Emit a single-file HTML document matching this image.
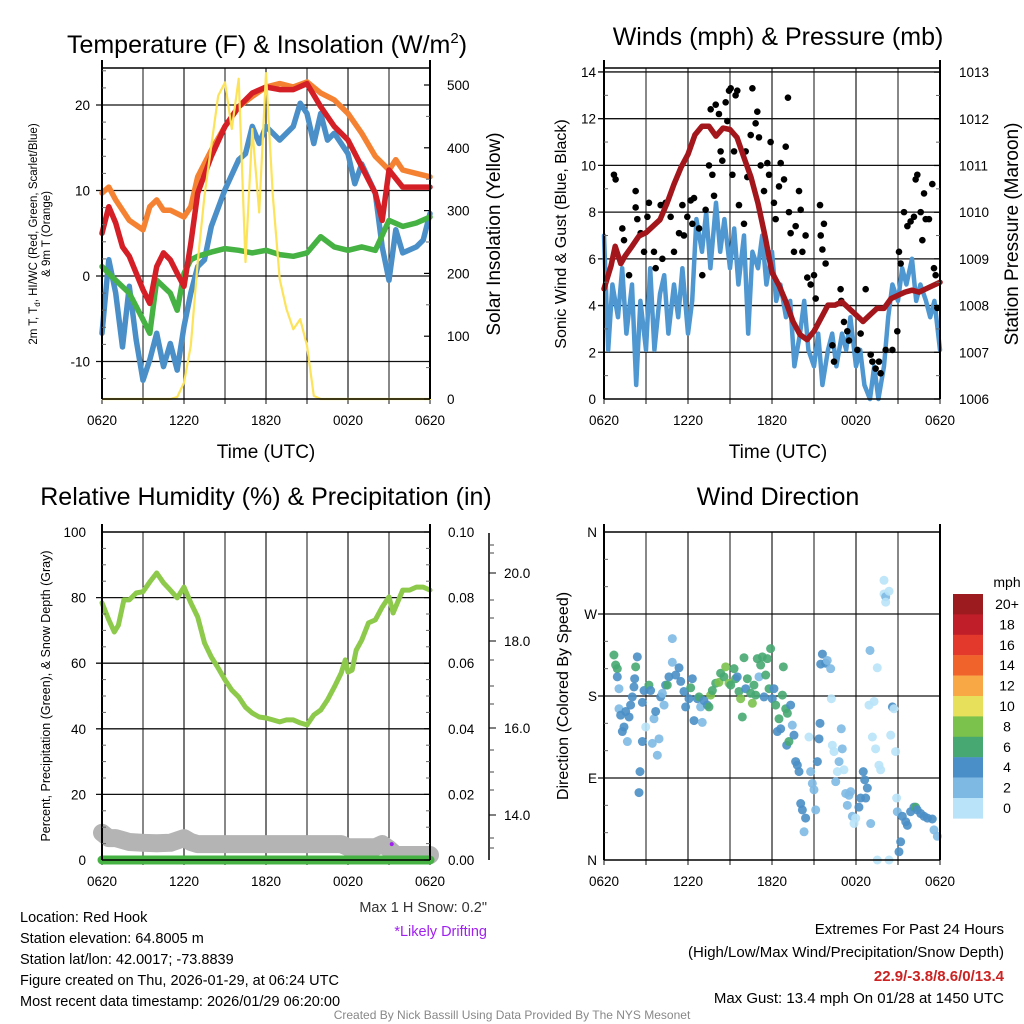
<!DOCTYPE html>
<html><head><meta charset="utf-8"><style>
html,body{margin:0;padding:0;background:#fff;}
svg{display:block;font-family:"Liberation Sans",sans-serif;}
</style></head><body>
<svg id="c" width="1024" height="1024" viewBox="0 0 1024 1024" xmlns="http://www.w3.org/2000/svg">
<rect x="0" y="0" width="1024" height="1024" fill="#fff"/>
<g id="g"></g>
<!-- titles -->
<text x="267" y="53" font-size="25" text-anchor="middle">Temperature (F) &amp; Insolation (W/m<tspan font-size="15" dy="-10">2</tspan><tspan dy="10">)</tspan></text>
<text x="778" y="45" font-size="25" text-anchor="middle">Winds (mph) &amp; Pressure (mb)</text>
<text x="266" y="505" font-size="25" text-anchor="middle">Relative Humidity (%) &amp; Precipitation (in)</text>
<text x="778" y="505" font-size="25" text-anchor="middle">Wind Direction</text>
<text x="266" y="458" font-size="19" text-anchor="middle">Time (UTC)</text>
<text x="778" y="458" font-size="19" text-anchor="middle">Time (UTC)</text>
<text transform="translate(37,234) rotate(-90)" font-size="11.5" text-anchor="middle">2m T, T<tspan font-size="8" dy="3">d</tspan><tspan dy="-3">,  HI/WC (Red, Green, Scarlet/Blue)</tspan></text>
<text transform="translate(50,234) rotate(-90)" font-size="11.5" text-anchor="middle">&amp; 9m T (Orange)</text>
<text transform="translate(500,234) rotate(-90)" font-size="19" text-anchor="middle">Solar Insolation (Yellow)</text>
<text transform="translate(566,234) rotate(-90)" font-size="16" text-anchor="middle">Sonic Wind &amp; Gust (Blue, Black)</text>
<text transform="translate(1018,234) rotate(-90)" font-size="19" text-anchor="middle">Station Pressure (Maroon)</text>
<text transform="translate(50,696) rotate(-90)" font-size="12.5" text-anchor="middle">Percent, Precipitation (Green), &amp; Snow Depth (Gray)</text>
<text transform="translate(568,696) rotate(-90)" font-size="16" text-anchor="middle">Direction (Colored By Speed)</text>
<text x="1007" y="587" font-size="14" text-anchor="middle">mph</text>
<!-- bottom text -->
<g font-size="14.5">
<text x="20" y="922">Location: Red Hook</text>
<text x="20" y="943">Station elevation: 64.8005 m</text>
<text x="20" y="964">Station lat/lon: 42.0017; -73.8839</text>
<text x="20" y="985">Figure created on Thu, 2026-01-29, at 06:24 UTC</text>
<text x="20" y="1006">Most recent data timestamp: 2026/01/29 06:20:00</text>
</g>
<text x="487" y="912" font-size="14.5" text-anchor="end" fill="#333">Max 1 H Snow: 0.2"</text>
<text x="487" y="936" font-size="14.5" text-anchor="end" fill="#a020f0">*Likely Drifting</text>
<g font-size="15" text-anchor="end">
<text x="1004" y="934">Extremes For Past 24 Hours</text>
<text x="1004" y="957">(High/Low/Max Wind/Precipitation/Snow Depth)</text>
<text x="1004" y="981" fill="#cc2222" font-weight="bold">22.9/-3.8/8.6/0/13.4</text>
<text x="1004" y="1003">Max Gust: 13.4 mph On 01/28 at 1450 UTC</text>
</g>
<text x="512" y="1019" font-size="12" text-anchor="middle" fill="#888">Created By Nick Bassill Using Data Provided By The NYS Mesonet</text>
</svg>
<script>
// ---- data ----
const tempT = [0,0.5,1,2,3,3.5,4,4.5,5,6,6.5,7,8,9,10,11,12,13,14,15,16,17,18,19,20,21,21.5,22,23,24];
const orange9m = [9.7,10.4,8.9,6.5,5.4,8.1,8.9,7.7,7.7,6.9,8.1,11.6,14.7,17.5,19.8,21,22.1,22.5,22.1,22.7,21.4,20.6,19,16.7,14,12.4,13.6,12.4,12,11.6];
const redT = [0,0.5,1,1.5,2,3,3.5,4,4.5,5,5.5,6,6.5,7,8,9,10,11,12,13,14,15,16,17,18,19,20,20.5,21,22,23,24];
const red2m = [5,8.1,6.2,3.4,2.3,-1.6,-3.2,1.1,2.7,1.9,0.3,-1.2,3.8,9.7,14,17.5,19.8,21.4,22.1,21.8,21.8,22.5,19.8,17.5,15.9,12.8,9.7,6.5,12.4,10.4,10.4,10.4];
const greenT = [0,1,2,3,3.5,4,5,5.5,6,6.5,7,8,9,10,11,12,13,14,15,16,17,18,19,20,21,22,23,24];
const greenTd = [1.1,-0.5,-2,-5.1,-6.7,-0.5,-2,-4,0.3,1.9,2.3,2.8,3.2,3,2.7,3,2.5,2.3,2.7,4.6,3.4,3,3.4,3,6.5,5.8,6.2,6.9];
const blueT = [0,0.5,1,1.5,2,2.5,3,3.5,4,4.5,5,5.5,6,6.5,7,7.5,8,9,10,10.5,11,11.5,12,13,14,14.5,15,15.5,16,16.5,17,18,18.5,19,20,20.5,21,21.5,22,23,23.5,24];
const blueWC = [-6.7,1.9,-2,-8.3,-1.2,-7.5,-12.2,-9.8,-6.7,-10.6,-7.9,-11,-5.9,-2,1.1,1.9,5.8,10.1,13.6,14.3,17.5,15.5,17.5,15.9,17.5,20.2,19,15.5,19,15.9,16.7,14.3,10.8,13.1,9.7,3.4,-0.5,5.4,2.7,3.4,4.2,7.3];
const solarT = [0,5,5.5,6,6.5,7,7.5,8,8.5,9,9.5,10,10.5,11,11.5,12,12.5,13,13.5,14,14.5,15,15.5,16,24];
const solar = [0,0,3,26,85,218,324,403,483,504,430,510,218,430,297,519,324,191,143,111,127,85,5,0,0];
const windT = [0,0.3,0.6,1,1.3,1.6,2,2.3,2.6,3,3.3,3.6,4,4.3,4.6,5,5.3,5.6,6,6.3,6.6,7,7.3,7.6,8,8.3,8.6,9,9.3,9.6,10,10.3,10.6,11,11.3,11.6,12,12.3,12.6,13,13.3,13.6,14,14.3,14.6,15,15.3,15.6,16,16.3,16.6,17,17.3,17.6,18,18.3,18.6,19,19.3,19.6,20,20.3,20.6,21,21.3,21.6,22,22.3,22.6,23,23.3,23.6,24];
const windSpd = [7.0,2.1,4.9,3.5,5.6,2.8,4.9,0.6,4.2,2.1,5.6,2.1,4.5,5.3,2.8,4.9,3.5,5.6,2.8,4.2,7.7,6.3,8.0,5.6,8.4,6.3,7.7,5.6,7.3,4.9,7.0,2.8,6.3,5.6,7.0,4.9,6.3,4.2,4.9,3.5,4.2,1.4,2.8,4.2,2.1,1.4,2.8,0.6,2.1,2.8,1.4,2.8,2.1,3.5,1.4,2.1,0.6,0,1.4,0,1.4,3.5,4.9,4.2,5.6,4.9,6.0,4.2,4.9,4.2,3.5,4.2,2.1];
const presT = [0,0.5,0.8,1.2,1.5,2,2.5,3,3.5,4,4.5,5,5.5,6,6.5,7,7.5,8,8.5,9,9.5,10,10.5,11,11.5,12,12.5,13,13.5,14,14.5,15,15.5,16,16.5,17,17.5,18,18.5,19,19.5,20,20.5,21,21.5,22,22.5,23,24];
const pressure = [1008.36,1008.85,1009.27,1008.9,1009.06,1009.27,1009.49,1009.56,1009.7,1009.84,1010.19,1010.6,1010.96,1011.24,1011.66,1011.84,1011.84,1011.63,1011.8,1011.77,1011.6,1011.17,1010.75,1010.19,1009.49,1008.71,1008.43,1008.08,1007.66,1007.38,1007.27,1007.45,1007.73,1008.01,1008.01,1008.08,1007.94,1007.8,1007.66,1007.8,1007.94,1007.94,1008.15,1008.22,1008.29,1008.33,1008.29,1008.36,1008.5];
const gustT = [0.71,0.83,1.31,1.43,1.79,2.26,2.26,2.38,2.62,2.86,3.1,3.21,3.57,3.69,4.05,4.17,4.4,4.76,5,5.36,5.6,5.71,5.95,6.19,6.31,6.43,6.79,7.02,7.26,7.5,7.62,7.74,7.86,7.98,8.21,8.33,8.45,8.69,8.81,8.93,9.05,9.17,9.29,9.4,9.52,9.64,10,10.12,10.24,10.48,10.6,10.83,10.95,11.07,11.19,11.43,11.67,11.79,11.9,12.14,12.26,12.5,12.62,12.86,12.98,13.14,13.21,13.33,13.57,13.69,13.93,14.05,14.17,14.4,14.52,14.76,15,15.12,15.43,15.48,15.6,15.71,15.83,16.31,16.43,16.9,16.95,17.14,17.38,17.5,18.1,18.33,18.69,19.05,19.17,19.4,19.64,19.76,20.12,20.6,20.95,21.07,21.19,21.43,21.67,21.9,22.14,22.26,22.38,22.62,22.74,22.86,22.98,23.21,23.45,23.57,23.69,23.81];
const gustV = [9.6,9.4,7.3,6.8,5.3,8.9,8.2,7.7,7.1,6.3,7.8,8.4,6.3,5.6,8.3,6.0,8.4,7.8,6.3,7.1,8.3,7.0,7.8,8.5,7.5,8.6,7.3,5.3,8.1,10.0,12.4,9.6,8.7,12.6,12.2,10.6,10.2,12.7,11.9,13.2,13.3,9.6,10.6,13.0,13.2,8.3,7.5,10.6,9.5,11.3,13.3,11.8,12.3,11.2,10.0,8.9,10.1,9.6,11.0,8.4,7.7,9.1,10.1,9.4,10.8,12.9,8.0,7.1,6.3,7.4,8.9,8.1,6.3,7.0,5.2,4.9,5.3,4.3,8.3,7.0,6.4,7.5,5.8,2.3,1.6,4.7,4.2,3.3,2.9,2.5,2.1,2.8,4.7,1.9,1.6,1.3,1.6,1.1,2.1,2.1,2.9,6.3,5.8,8.0,7.4,7.6,7.8,9.4,9.6,8.0,6.8,8.8,7.7,7.7,9.2,5.6,5.3,3.9];
const rhT = [0,0.5,0.9,1.2,1.6,2,2.5,3,3.5,4,4.5,5,5.5,6,6.5,7,7.5,8,8.5,9,9.5,10,10.5,11,11.5,12,12.5,13,13.5,14,14.5,15,15.5,16,16.5,17,17.5,17.8,18,18.3,18.6,19,19.5,20,20.5,21,21.3,21.7,22,22.5,23,23.5,24];
const rh = [78.4,73.2,69.5,71.6,79.3,79.3,81.4,81.8,84.8,87.5,84.5,82.3,79.9,83.2,78.4,74.1,66.2,61.9,58.5,54.9,51.8,49.7,46.6,44.8,43.6,43.3,42.7,42.1,42.7,42.7,41.8,41.2,44.2,45.7,48.8,52.7,57,61,57.3,57.9,64,67,72.3,73.2,77.1,80.2,75.3,79.3,82.3,82.3,83.2,83.2,82.3];
const snowT = [0,0.5,1,2,3,4,5,6,6.5,7,17.5,18,20,20.5,21,21.5,24];
const snowDepth = [13.59,13.47,13.47,13.38,13.36,13.35,13.36,13.47,13.38,13.33,13.33,13.26,13.26,13.33,13.22,13.08,13.08];
const precipT = [0,24];
const precip = [0,0];
const dirT = [0.71,0.83,0.95,0.95,1.07,1.07,1.19,1.31,1.43,1.55,1.67,1.79,1.9,2.02,2.14,2.19,2.26,2.38,2.57,2.5,2.74,2.74,2.86,2.98,3.21,3.33,3.45,3.57,3.69,3.81,3.93,4.05,4.17,4.29,4.4,4.52,4.64,4.88,4.88,5.12,5.36,5.48,5.71,5.83,6.07,6.19,6.31,6.43,6.67,6.79,6.9,7.02,7.14,7.38,7.5,7.62,7.74,7.98,8.21,8.33,8.57,8.69,8.93,9.05,9.29,9.4,9.52,9.64,9.76,9.88,10,10.12,10.24,10.48,10.6,10.71,10.83,10.95,11.07,11.19,11.31,11.43,11.55,11.67,11.79,11.9,12.02,12.14,12.26,12.38,12.5,12.62,12.74,12.81,12.98,13.05,13.1,13.21,13.33,13.45,13.57,13.69,13.81,13.93,14.05,14.17,14.29,14.4,14.64,14.76,14.88,15,15.12,15.24,15.36,15.43,15.48,15.6,15.83,15.95,16.19,16.24,16.31,16.43,16.55,16.67,16.79,16.95,17.02,17.14,17.26,17.38,17.5,17.62,17.74,17.86,17.98,18.21,18.33,18.52,18.62,18.69,18.81,18.93,19,19.05,19.17,19.29,19.4,19.52,19.52,19.64,19.76,20,20,20.12,20.12,20.36,20.36,20.48,20.6,20.71,20.83,20.9,20.95,21.07,21.19,21.31,21.55,21.67,21.9,22.14,22.26,22.38,22.62,22.86,23.1,23.45,23.57,23.81];
const dirDeg = [225,214,210,201,188,166,159,141,146,163,130,157,170,179,190,199,212,223,97,74,173,130,186,146,192,186,128,155,163,115,133,179,183,170,192,192,201,243,217,203,211,196,185,168,177,189,199,153,177,179,168,151,175,170,168,181,186,194,195,205,201,212,194,192,210,199,201,185,177,157,222,188,199,183,172,192,181,221,201,214,223,179,203,221,188,232,177,188,170,141,155,144,181,212,166,126,161,130,170,148,137,108,104,97,62,55,31,46,135,97,84,77,55,108,133,150,215,226,216,219,210,177,126,119,86,97,108,144,122,99,73,60,71,75,48,40,46,58,68,97,88,68,79,170,230,40,135,174,122,211,0,104,99,307,292,289,283,295,0,137,168,166,119,68,53,9,20,48,42,38,53,58,58,55,51,48,46,45,33,26];
const dirSpd = [7,7,7,5,3,3,5,5,5,5,3,5,5,5,5,5,7,5,5,5,5,5,5,1,7,5,3,3,5,3,3,5,3,3,5,7,5,3,3,5,5,5,5,5,5,7,5,5,5,7,3,3,5,5,7,9,7,7,9,7,7,9,9,7,7,7,5,7,9,7,7,5,7,7,9,7,7,7,3,7,7,5,7,7,7,7,5,5,7,5,7,5,7,7,7,5,7,7,5,3,5,5,5,5,5,5,3,5,1,3,3,3,3,5,5,5,5,5,5,3,3,1,1,1,3,1,3,3,3,1,3,3,3,3,3,1,1,5,5,5,5,5,5,1,3,3,1,1,1,1,1,1,1,1,1,3,1,1,1,1,5,1,1,1,3,5,5,5,5,5,5,5,7,5,5,5,5,5,3,3];
const cbLabels = ["20+","18","16","14","12","10","8","6","4","2","0"];
const cbColors = ["#9b1b1f","#c01f2a","#e2392c","#f0632b","#f8a845","#e7e05a","#7bc24c","#47a872","#4a8fc7","#7eb9e4","#b8e3f8"];
const xTickLabels = ["0620","1220","1820","0020","0620"];

// ---- helpers ----
const NS="http://www.w3.org/2000/svg";
const root=document.getElementById('g');
function mk(tag,attrs,parent){const e=document.createElementNS(NS,tag);for(const k in attrs)e.setAttribute(k,attrs[k]);(parent||root).appendChild(e);return e;}
function panel(x0,x1,y0,y1){return {x0,x1,y0,y1,x:t=>x0+t*(x1-x0)/24};}
const P1=panel(102,430,68,399), P2=panel(604,940,68,399), P3=panel(102,430,532,860), P4=panel(604,940,532,860);
const y1L=v=>276-v*8.55, y1R=v=>399-v*0.628;
const y2L=v=>399-v*23.36, y2R=p=>399-(p-1006)*46.7;
const y3L=v=>860-v*3.28, y3R=v=>860-v*3280, y3S=s=>815-(s-14)*43.5;
const y4=d=>860-d*328/360;

function grid(P,hVals,yf,name){
  const g=mk('g',{});
  
  
  for(let h=3;h<24;h+=3){const x=P.x(h);mk('line',{x1:x,x2:x,y1:P.y0,y2:P.y1,stroke:h%6==0?'#555':'#111','stroke-width':h%6==0?1.6:1},g);
    mk('line',{x1:x,x2:x,y1:P.y1,y2:P.y1+5,stroke:'#111','stroke-width':1},g);}
  hVals.forEach(v=>{const y=yf(v);mk('line',{x1:P.x0-6,x2:P.x1,y1:y,y2:y,stroke:'#111','stroke-width':1.3},g);});
  [0,24].forEach(h=>{const x=P.x(h);mk('line',{x1:x,x2:x,y1:P.y1,y2:P.y1+5,stroke:'#111'},g);});
  xTickLabels.forEach((l,i)=>{const t=mk('text',{x:P.x(i*6),y:P.y1+26,'font-size':13.5,'text-anchor':'middle'},g);t.textContent=l;});
}
function frame(P,name){
  const g=mk('g',{});
  
  
  mk('line',{x1:P.x0,x2:P.x1,y1:P.y0,y2:P.y0,stroke:'#000','stroke-width':1.5},g);
  mk('line',{x1:P.x0,x2:P.x1,y1:P.y1,y2:P.y1,stroke:'#000','stroke-width':1.5},g);
  mk('line',{x1:P.x0,x2:P.x0,y1:P.y0-8,y2:P.y1,stroke:'#000','stroke-width':2},g);
  mk('line',{x1:P.x1,x2:P.x1,y1:P.y0-8,y2:P.y1,stroke:'#000','stroke-width':2},g);
}
function yLabels(vals,labels,yf,x,anchor,size,name,tickX,tickDir){
  const g=mk('g',{});
  
  
  vals.forEach((v,i)=>{const y=yf(v);const t=mk('text',{x:x,y:y+5,'font-size':size,'text-anchor':anchor},g);t.textContent=labels[i];
    if(tickX!==undefined)mk('line',{x1:tickX,x2:tickX+tickDir*6,y1:y,y2:y,stroke:'#000','stroke-width':1.2},g);});
}
function minor(x,dir,vals,yf){vals.forEach(v=>{const y=yf(v);mk('line',{x1:x,x2:x+dir*4,y1:y,y2:y,stroke:'#666','stroke-width':1});});}
function line(P,ts,vs,yf,color,w,name){
  const d=ts.map((t,i)=>(i?'L':'M')+P.x(t).toFixed(1)+','+yf(vs[i]).toFixed(1)).join('');
  const p=mk('path',{d:d,fill:'none',stroke:color,'stroke-width':w,'stroke-linejoin':'round','stroke-linecap':'round'});
  
  
  return p;
}
function range(a,b,s){const r=[];for(let v=a;v<=b+1e-9;v+=s)r.push(+v.toFixed(4));return r;}

// ---- Panel 1 ----
grid(P1,[-10,0,10,20],y1L,'temp');
line(P1,tempT,orange9m,y1L,'#f58232',5.5,'orange-9m-temp-line');
line(P1,blueT,blueWC,y1L,'#4a8fc8',5.5,'blue-windchill-line');
line(P1,greenT,greenTd,y1L,'#45b243',5.5,'green-dewpoint-line');
line(P1,redT,red2m,y1L,'#d41f26',5.5,'red-2m-temp-line');
line(P1,solarT,solar,y1R,'#fce35a',2.2,'yellow-solar-line');
frame(P1,'temp');
yLabels([-10,0,10,20],['-10','0','10','20'],y1L,90,'end',13.5,'temp-left-ticks');
minor(P1.x0,1,range(-12,24,2).filter(v=>v%10!=0),y1L);
yLabels([0,100,200,300,400,500],['0','100','200','300','400','500'],y1R,447,'start',13.5,'solar-right-ticks',P1.x1,-1);
minor(P1.x1,-1,range(50,500,50).filter(v=>v%100!=0),y1R);

// ---- Panel 2 ----
grid(P2,[2,4,6,8,10,12,14],y2L,'wind');
line(P2,windT,windSpd,y2L,'#4f97d0',4.5,'blue-wind-speed-line');
const gg=mk('g',{});


gustT.forEach((t,i)=>{const c=mk('circle',{cx:P2.x(t),cy:y2L(gustV[i]),r:3.3,fill:'#000'},gg);
  
  });
line(P2,presT,pressure,y2R,'#a3161c',5.5,'maroon-pressure-line');
frame(P2,'wind');
yLabels(range(0,14,2),range(0,14,2).map(String),y2L,596,'end',13.5,'wind-left-ticks');
minor(P2.x0,1,range(1,13,2),y2L);
yLabels(range(1006,1013,1),range(1006,1013,1).map(String),y2R,959,'start',13.5,'pressure-right-ticks',P2.x1,-1);
minor(P2.x1,-1,range(1006.5,1012.5,1),y2R);

// ---- Panel 3 ----
grid(P3,[20,40,60,80],y3L,'humidity');
line(P3,snowT,snowDepth,y3S,'#b4b4b4',18,'gray-snow-depth-line');
line(P3,precipT,precip,y3R,'#45b243',9,'green-precip-line');
line(P3,rhT,rh,y3L,'#8dc94a',5,'rh-line');
const dot=mk('circle',{cx:P3.x(21.2),cy:y3S(13.33),r:2,fill:'#a020f0'});


frame(P3,'humidity');
yLabels([0,20,40,60,80,100],['0','20','40','60','80','100'],y3L,86,'end',13.5,'rh-left-ticks');
minor(P3.x0,1,range(5,95,5).filter(v=>v%20!=0),y3L);
yLabels(range(0,0.1,0.02),['0.00','0.02','0.04','0.06','0.08','0.10'],y3R,448,'start',13.5,'precip-right-ticks',P3.x1,-1);
minor(P3.x1,-1,range(0.005,0.095,0.005).filter(v=>Math.round(v*1000)%20!=0),y3R);
// snow axis
const sa=mk('line',{x1:489,x2:489,y1:533,y2:860,stroke:'#000','stroke-width':1.5});


[[815,'14.0'],[728,'16.0'],[641,'18.0'],[573,'20.0']].forEach(a=>{mk('line',{x1:489,x2:496,y1:a[0],y2:a[0],stroke:'#000'});
  const t=mk('text',{x:504,y:a[0]+5,'font-size':13.5},root);t.textContent=a[1];});
[545,553,600,618,660,686,704,750,772,790,838,848].forEach(y=>mk('line',{x1:489,x2:494,y1:y,y2:y,stroke:'#444'}));

// ---- Panel 4 ----
grid(P4,[90,180,270],y4,'direction');
const dg=mk('g',{});


dirT.forEach((t,i)=>{const bin=Math.min(10,Math.floor(dirSpd[i]/2));const c=mk('circle',{cx:P4.x(t),cy:y4(dirDeg[i]),r:4.5,fill:cbColors[10-bin],'fill-opacity':0.9},dg);
  
  });
frame(P4,'direction');
yLabels([0,90,180,270,360],['N','E','S','W','N'],y4,597,'end',13.5,'direction-left-ticks');
minor(P4.x0,1,range(30,330,30).filter(v=>v%90!=0),y4);
// colorbar
const cb=mk('g',{});


cbColors.forEach((c,i)=>{const y=594+i*20.4;mk('rect',{x:953,y:y,width:30,height:20.6,fill:c},cb);
  const t=mk('text',{x:1007,y:y+15,'font-size':14,'text-anchor':'middle'},cb);t.textContent=cbLabels[i];});
</script>
</body></html>
